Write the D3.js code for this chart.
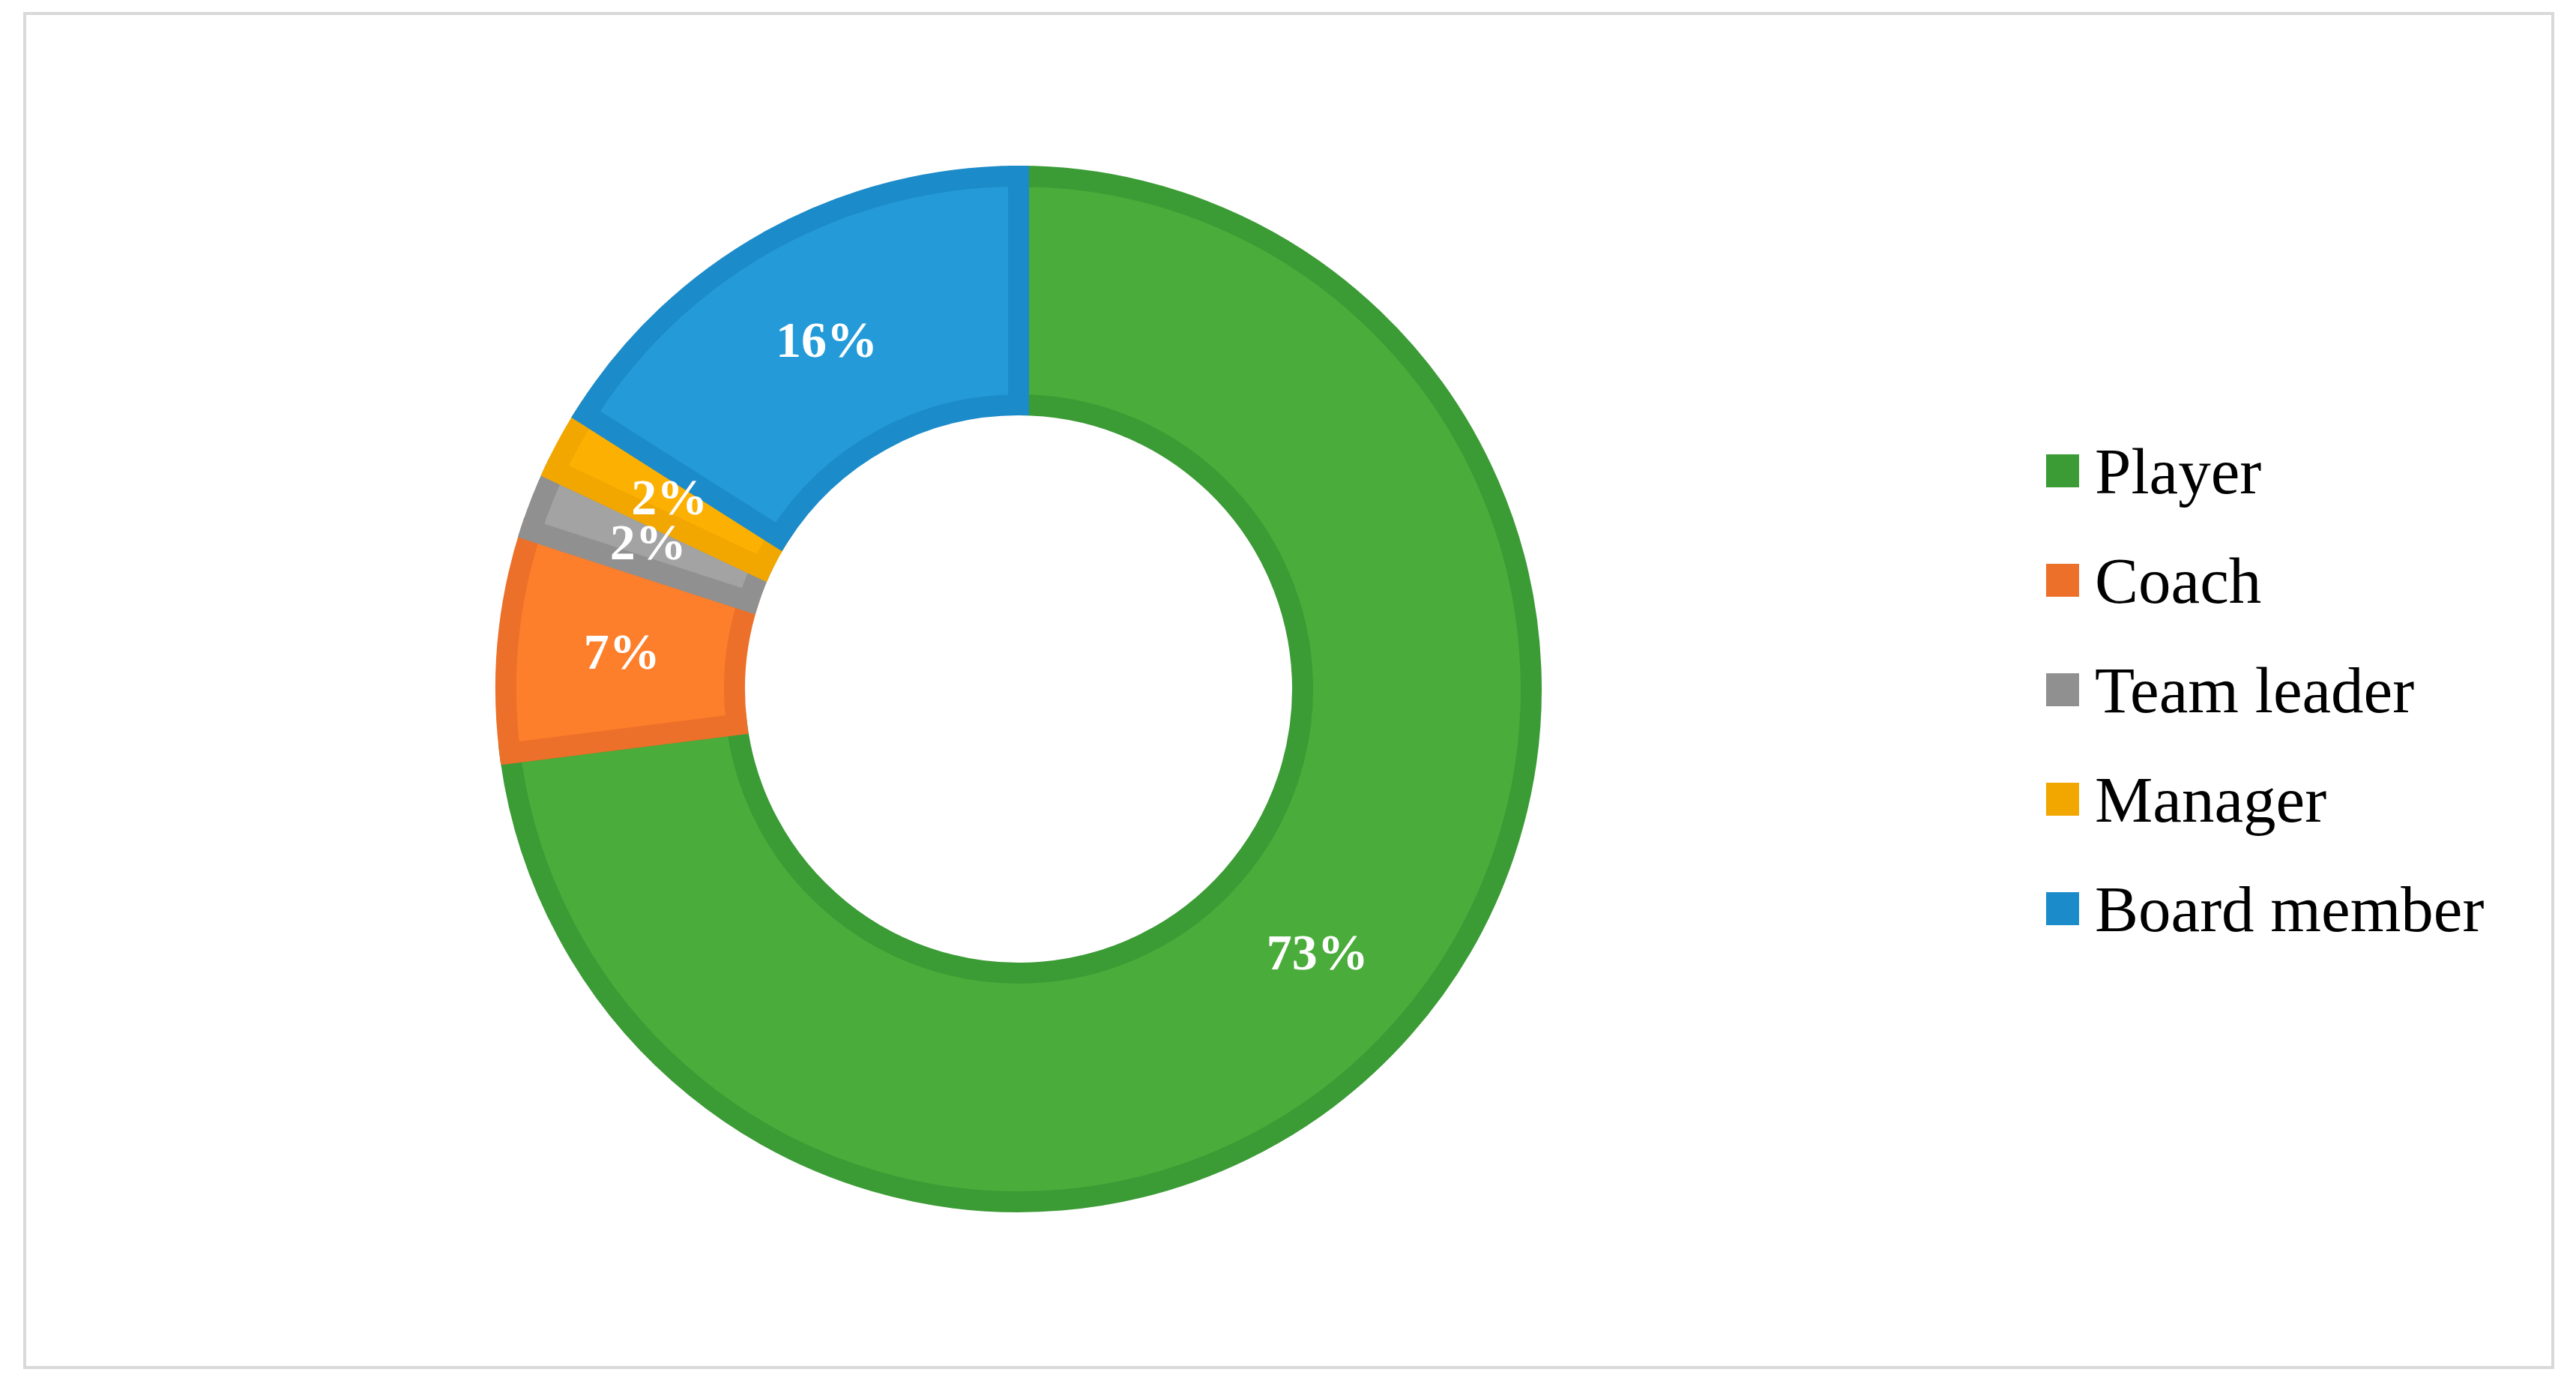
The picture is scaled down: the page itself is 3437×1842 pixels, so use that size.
<!DOCTYPE html>
<html><head><meta charset="utf-8">
<script src="https://cdn.jsdelivr.net/npm/d3@7"></script>
<style>body{margin:0;background:#fff}</style></head>
<body><svg id="c" width="3437" height="1842"></svg>
<script>
const categories = ["Player","Coach","Team leader","Manager","Board member"];
const values = [73,7,2,2,16];
const labels = ["73%","7%","2%","2%","16%"];
const fills = ["#4aac3a","#fd7f2b","#a3a3a3","#fcb002","#249bd8"];
const strokes = ["#3b9b35","#ec702a","#909090","#f2a700","#1c8bc9"];

const svg = d3.select("#c");
svg.append("rect").attr("x",33).attr("y",18).attr("width",3373).attr("height",1806)
  .attr("fill","#fff").attr("stroke","#d9d9d9").attr("stroke-width",4);
const cx=1359, cy=919, R=698, r=365, sw=28;
const g = svg.append("g").attr("transform",`translate(${cx},${cy})`);
const pie = d3.pie().sort(null).value(d=>d)(values);
const arc = d3.arc().innerRadius(r+sw/2).outerRadius(R-sw/2);
g.selectAll("path").data(pie).join("path").attr("d",arc)
  .attr("fill",(d,i)=>fills[i]).attr("stroke",(d,i)=>strokes[i]).attr("stroke-width",sw).attr("stroke-linejoin","miter");
const lab = d3.arc().innerRadius(r).outerRadius(R);
g.selectAll("text").data(pie).join("text")
  .attr("transform",d=>`translate(${lab.centroid(d)})`)
  .attr("text-anchor","middle").attr("dominant-baseline","central")
  .attr("font-family","Liberation Serif").attr("font-weight","bold").attr("font-size",68)
  .attr("fill","#fff").text((d,i)=>labels[i]);
const y = d3.scalePoint().domain(categories).range([628,1212]);
const lg = svg.append("g");
categories.forEach((c,i)=>{
  lg.append("rect").attr("x",2730).attr("y",y(c)-22).attr("width",44).attr("height",44).attr("fill",strokes[i]);
  lg.append("text").attr("x",2795).attr("y",y(c)).attr("dominant-baseline","central")
    .attr("font-family","Liberation Serif").attr("font-size",87).attr("fill","#000").text(c);
});
</script></body></html>
